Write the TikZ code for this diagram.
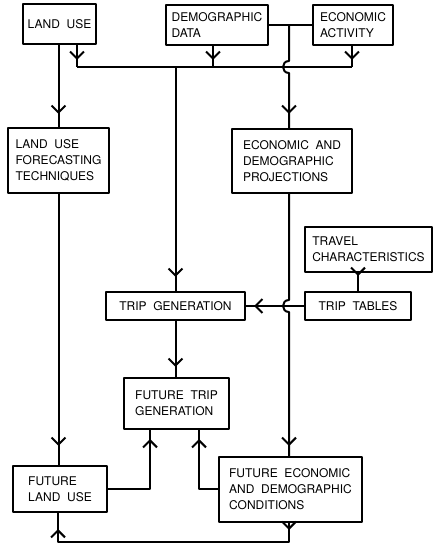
\documentclass[tikz,border=0pt]{standalone}
\usepackage{fontspec}
\setmainfont{TeX Gyre Heros}[WordSpace=2]
\usetikzlibrary{arrows.meta}
\usetikzlibrary{decorations.markings}
\tikzset{
  box/.style={draw,align=left,inner sep=0pt,font=\fontsize{12bp}{16bp}\selectfont},
  flow/.style={postaction={decorate,decoration={markings,
      mark=at position #1 with {\arrow{Straight Barb[length=7bp,width=14bp]}}}}},
  flow/.default=-12bp,
}

\begin{document}
\begin{tikzpicture}[line width=2bp,line join=bevel]
\useasboundingbox (0bp,0bp) rectangle (434bp,544bp);
%% boxes
  \node (lu) at (59.5bp,520.0bp) [box,minimum width=73bp,minimum height=40bp] {LAND USE};
  \node (dd) at (217.0bp,519.0bp) [box,minimum width=102bp,minimum height=40bp] {DEMOGRAPHIC\\DATA};
  \node (ea) at (353.0bp,519.0bp) [box,minimum width=80bp,minimum height=40bp] {ECONOMIC\\ACTIVITY};
  \node (luf) at (58.5bp,383.5bp) [box,minimum width=101bp,minimum height=65bp] {LAND USE\\FORECASTING\\TECHNIQUES};
  \node (edp) at (292.0bp,383.0bp) [box,minimum width=120bp,minimum height=64bp] {ECONOMIC AND\\DEMOGRAPHIC\\PROJECTIONS};
  \node (tc) at (368.5bp,294.5bp) [box,minimum width=127bp,minimum height=45bp] {TRAVEL\\CHARACTERISTICS};
  \node (tg) at (175.5bp,238.0bp) [box,minimum width=139bp,minimum height=28bp] {TRIP GENERATION};
  \node (tt) at (358.0bp,238.0bp) [box,minimum width=106bp,minimum height=28bp] {TRIP TABLES};
  \node (ftg) at (176.5bp,140.5bp) [box,minimum width=105bp,minimum height=51bp] {FUTURE TRIP\\GENERATION};
  \node (flu) at (60.0bp,55.0bp) [box,minimum width=94bp,minimum height=46bp] {FUTURE\\LAND USE};
  \node (fed) at (290.5bp,54.5bp) [box,minimum width=143bp,minimum height=65bp] {FUTURE ECONOMIC\\AND DEMOGRAPHIC\\CONDITIONS};
  \coordinate (jn) at (289.0bp,519.0bp);
  \coordinate (bL) at (77.0bp,477.0bp);
  \coordinate (bM) at (213.0bp,477.0bp);
  \coordinate (bR) at (352.0bp,477.0bp);
  \coordinate (bot) at (58.0bp,2.0bp);
%% top bus
  \draw (dd.east) -- (ea.west);
  \draw (bL) -- (bR);
  \draw [flow=-7bp] (lu.south -| bL) -- (bL);
  \draw [flow=-7bp] (dd.south -| bM) -- (bM);
  \draw [flow=-7bp] (ea.south -| bR) -- (bR);
  \draw [flow=-14bp] (bL -| tg.north) -- (tg.north);
  \draw [flow=-14bp] (jn) -- (289.0bp,483.0bp) .. controls (281.0bp,483.0bp) and (281.0bp,471.0bp) .. (289.0bp,471.0bp) -- (edp.north -| jn);
%% middle
  \draw [flow=-13bp] (lu.south -| luf.north) -- (luf.north);
  \draw [flow=-19bp] (luf.south) -- (luf.south |- flu.north);
  \draw [flow=-15bp] (tc.south -| tt.north) -- (tt.north);
  \draw [flow=-8bp] (tt.west) -- (tg.east);
  \draw [flow=-10bp] (tg.south) -- (tg.south |- ftg.north);
  \draw [flow=-10bp] (edp.south -| jn) -- (289.0bp,244.0bp) .. controls (281.0bp,244.0bp) and (281.0bp,232.0bp) .. (289.0bp,232.0bp) -- (fed.north -| jn);
%% bottom
  \draw [flow=-9bp] (flu.east) -| ([xshift=27bp]ftg.south west);
  \draw [flow=-9bp] (fed.west) -| ([xshift=-31bp]ftg.south east);
  \draw [flow=7bp,flow=-16bp] (fed.south -| jn) -- (jn |- bot) -- (bot) -- (flu.south -| bot);
%
\end{tikzpicture}
\end{document}
